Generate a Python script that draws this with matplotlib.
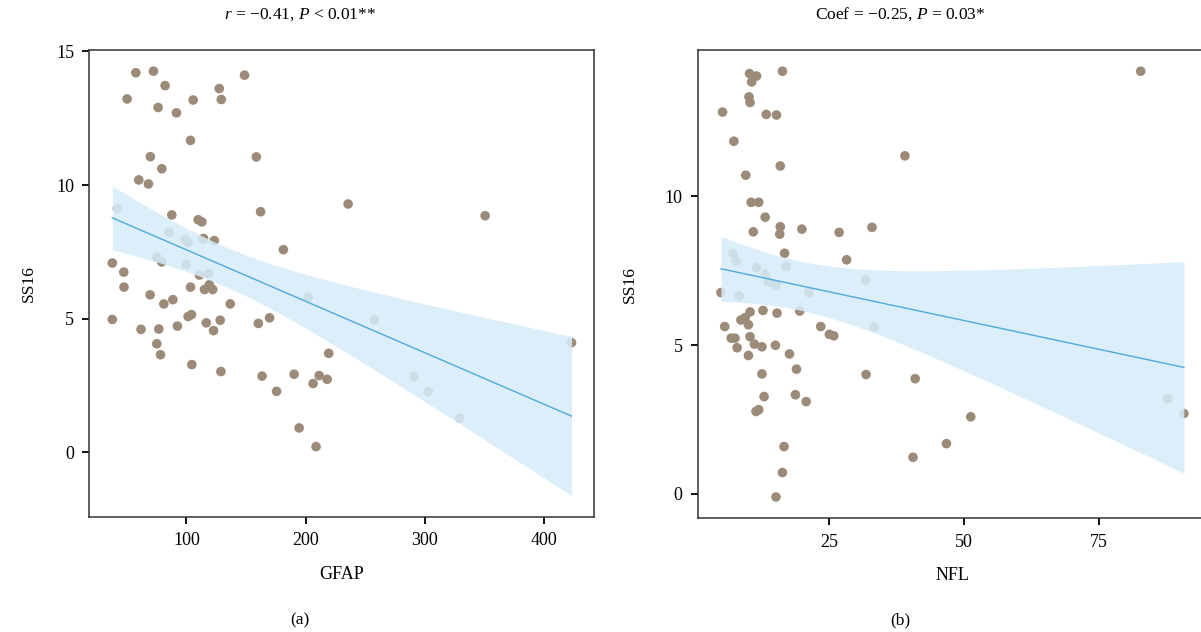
import numpy as np
import matplotlib
matplotlib.use('Agg')
import matplotlib.pyplot as plt

plt.rcParams['font.family'] = ['Liberation Serif', 'DejaVu Serif']
plt.rcParams['mathtext.fontset'] = 'custom'
plt.rcParams['mathtext.rm'] = 'Liberation Serif'
plt.rcParams['mathtext.it'] = 'Liberation Serif:italic'

# panel (a): GFAP vs SS16
gfap = [57.5, 72.3, 82.1, 50.2, 76.2, 91.6, 105.6, 127.5, 129.2, 148.7, 103.4, 69.7,
        158.6, 79.3, 60.0, 68.1, 87.7, 109.8, 112.9, 162.2, 114.3, 123.3, 181.3, 37.8,
        47.4, 79.3, 47.6, 103.4, 110.9, 119.2, 122.0, 115.1,
        42.0, 85.5, 99.0, 101.2, 113.8, 75.1, 99.7, 118.5, 202.0, 257.7, 290.8, 302.9, 329.2,
        37.8, 69.5, 81.0, 88.6, 136.7, 101.4, 104.2, 92.4, 61.9, 76.8, 116.6, 128.3, 122.7,
        75.1, 78.2, 104.5, 128.9, 160.3, 169.7, 163.4, 175.6, 190.3, 206.2, 211.3, 218.0,
        219.3, 194.5, 208.7, 235.6, 350.5, 423.0]
ss16_a = [14.20, 14.26, 13.72, 13.22, 12.90, 12.70, 13.18, 13.61, 13.20, 14.11, 11.67, 11.06,
          11.05, 10.61, 10.19, 10.04, 8.88, 8.70, 8.62, 9.00, 8.00, 7.92, 7.58, 7.08,
          6.74, 7.12, 6.18, 6.18, 6.63, 6.27, 6.09, 6.09,
          9.12, 8.22, 7.96, 7.86, 7.97, 7.30, 7.02, 6.68, 5.80, 4.95, 2.83, 2.27, 1.27,
          4.97, 5.89, 5.55, 5.71, 5.55, 5.08, 5.15, 4.72, 4.60, 4.61, 4.84, 4.94, 4.55,
          4.06, 3.65, 3.28, 3.02, 4.82, 5.03, 2.85, 2.28, 2.92, 2.57, 2.87, 2.73,
          3.70, 0.91, 0.21, 9.29, 8.85, 4.10]

# panel (b): NFL vs SS16
nfl = [10.3, 11.6, 10.7, 16.4, 10.2, 10.4, 5.3, 13.4, 15.3, 7.4, 16.0, 9.6, 10.6, 12.0,
       13.2, 16.0, 15.9, 11.0, 20.0, 26.9, 33.0, 16.8, 7.2, 7.8, 11.6, 13.2, 13.8, 15.2,
       17.1, 5.0, 8.4, 21.3, 19.6, 10.4, 12.8, 15.4, 8.7, 9.5, 10.1, 5.7, 6.9, 7.6, 10.4,
       11.2, 12.6, 8.0, 10.1, 15.1, 17.7, 23.5, 25.1, 25.9, 12.6, 19.0, 13.0, 18.8, 20.8,
       11.5, 12.0, 16.7, 16.4, 15.2, 82.8, 39.1, 28.3, 31.8, 33.4, 31.9, 41.0, 51.3, 46.8,
       40.6, 87.8, 90.8]
ss16_b = [14.11, 14.03, 13.83, 14.19, 13.33, 13.14, 12.82, 12.74, 12.72, 11.84, 11.01, 10.70,
          9.79, 9.79, 9.29, 8.97, 8.72, 8.80, 8.89, 8.78, 8.95, 8.08, 8.08, 7.81, 7.60, 7.38,
          7.12, 7.01, 7.64, 6.76, 6.65, 6.76, 6.14, 6.11, 6.16, 6.07, 5.84, 5.92, 5.68, 5.62,
          5.23, 5.23, 5.28, 5.03, 4.94, 4.91, 4.65, 4.99, 4.70, 5.62, 5.36, 5.31, 4.03, 4.19,
          3.27, 3.33, 3.10, 2.77, 2.83, 1.59, 0.72, -0.10, 14.19, 11.35, 7.86, 7.18, 5.61,
          4.01, 3.87, 2.59, 1.69, 1.23, 3.20, 2.70]

titles = [r'$\mathit{r}$ = −0.41, $\mathit{P}$ < 0.01**', r'Coef = −0.25, $\mathit{P}$ = 0.03*']
xlabels = ['GFAP', 'NFL']
panels = ['(a)', '(b)']
xticks = [[100, 200, 300, 400], [25, 50, 75]]
yticks = [[0, 5, 10, 15], [0, 5, 10]]

POINT = '#9c8b78'
BAND = '#d6ecf9'
LINE = '#4ea9dc'


def lm_band(x, y, n=100, t=1.99):
    # ordinary least squares with 95% confidence band (like geom_smooth(method='lm'))
    x = np.asarray(x)
    y = np.asarray(y)
    b, a = np.polyfit(x, y, 1)
    resid = y - (a + b * x)
    s = np.sqrt(np.sum(resid ** 2) / (len(x) - 2))
    xm = x.mean()
    sxx = np.sum((x - xm) ** 2)
    xs = np.linspace(x.min(), x.max(), n)
    fit = a + b * xs
    se = s * np.sqrt(1 / len(x) + (xs - xm) ** 2 / sxx)
    return xs, fit, fit - t * se, fit + t * se


def expand(lo, hi, f=0.05):
    r = hi - lo
    return lo - f * r, hi + f * r


fig = plt.figure(figsize=(12.01, 6.32), dpi=100)
positions = [[0.0744, 0.182, 0.4206, 0.739], [0.581, 0.180, 0.424, 0.741]]
ylabelpad = [14, 19]

for i, (xd, yd) in enumerate([(gfap, ss16_a), (nfl, ss16_b)]):
    ax = fig.add_axes(positions[i])
    ax.scatter(xd, yd, s=48, color=POINT, edgecolors='none', zorder=2)
    xs, fit, lo, hi = lm_band(xd, yd)
    ax.fill_between(xs, lo, hi, color=BAND, alpha=0.86, linewidth=0, zorder=3)
    ax.plot(xs, fit, color=LINE, lw=1.0, zorder=4)

    ax.set_xlim(*expand(min(xd), max(xd)))
    ymin = min(min(yd), lo.min())
    ymax = max(max(yd), hi.max())
    ax.set_ylim(*expand(ymin, ymax))
    ax.set_xticks(xticks[i])
    ax.set_yticks(yticks[i])
    ax.tick_params(direction='out', length=5, width=1.3, labelsize=13, color='black', pad=6)
    for sp in ax.spines.values():
        sp.set_color('#333333')
        sp.set_linewidth(1.1)
    ax.set_xlabel(xlabels[i], fontsize=13, labelpad=12)
    ax.set_ylabel('SS16', fontsize=12.5, labelpad=ylabelpad[i])

    cx = 0.25 + 0.5 * i
    fig.text(cx, 0.977, titles[i], ha='center', va='center', fontsize=12.5)
    fig.text(cx, 0.018, panels[i], ha='center', va='center', fontsize=12.5)

fig.savefig('out.png', dpi=100)
